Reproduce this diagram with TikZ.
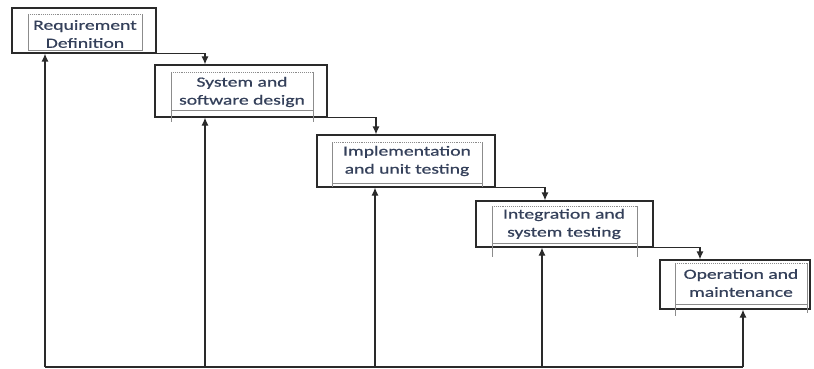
\documentclass[tikz,border=0pt]{standalone}
\usepackage{graphicx}
\usepackage{fontspec}
\setmainfont{Carlito}
\newfontfamily\lblfont{Carlito}[FakeBold=0.6]
\usetikzlibrary{arrows.meta}
\definecolor{txt}{HTML}{34405A}
\definecolor{ln}{HTML}{2A2A2A}
\newcommand{\sx}[1]{\scalebox{1.4}[1]{#1}}
\begin{document}
\begin{tikzpicture}[x=1pt,y=-1pt,
  outerbox/.style={draw=ln, line width=1.2pt, inner sep=0pt},
  lbl/.style={text=txt, font=\lblfont\fontsize{14}{18}\selectfont, align=center, inner sep=0pt},
  conn/.style={draw=ln, line width=1.2pt, -{Latex[length=8pt,width=7pt]}},
  plain/.style={draw=ln, line width=1.2pt},
  innerside/.style={draw=black!45, line width=0.7pt},
  innertop/.style={draw=black!45, line width=0.9pt, densely dotted}
]
\useasboundingbox (0,0) rectangle (814,369);

% outer boxes
\node[outerbox, minimum width=144pt, minimum height=45pt] (b1) at (84,30.5) {};
\node[outerbox, minimum width=172pt, minimum height=52pt] (b2) at (241,91) {};
\node[outerbox, minimum width=178pt, minimum height=52pt] (b3) at (406,161) {};
\node[outerbox, minimum width=177pt, minimum height=46pt] (b4) at (564.5,224) {};
\node[outerbox, minimum width=150pt, minimum height=49pt] (b5) at (735,284.5) {};

% inner boxes
\draw[innertop] (28,14) -- (142,14);
\draw[innerside] (28,14) -- (28,50) -- (142,50) -- (142,14);
\draw[innertop] (171,72) -- (313,72);
\draw[innerside] (171,72) -- (171,122) (313,72) -- (313,122) (171,110) -- (313,110);
\draw[innertop] (332,142) -- (482,142);
\draw[innerside] (332,142) -- (332,187) (482,142) -- (482,187) (332,183) -- (482,183);
\draw[innertop] (492,206) -- (637,206);
\draw[innerside] (492,206) -- (492,257) (637,206) -- (637,257) (492,243) -- (637,243);
\draw[innertop] (675,263) -- (807,263);
\draw[innerside] (675,263) -- (675,316) (807,263) -- (807,313) (675,304) -- (807,304);

% labels
\node[lbl] (l1) at (85,34) {\sx{Requirement}\\\sx{Definition}};
\node[lbl] (l2) at (242,92) {\sx{System and}\\\sx{software design}};
\node[lbl] (l3) at (407,161) {\sx{Implementation}\\\sx{and unit testing}};
\node[lbl] (l4) at (564,224) {\sx{Integration and}\\\sx{system testing}};
\node[lbl] (l5) at (741,283) {\sx{Operation and}\\\sx{maintenance}};

% top connectors
\coordinate (x2) at (205,0);
\coordinate (x3) at (376,0);
\coordinate (x4) at (545,0);
\coordinate (x5) at (700,0);
\draw[conn] (b1.south east) -| (b2.north -| x2);
\draw[conn] (b2.south east) -| (b3.north -| x3);
\draw[conn] (b3.south east) -| (b4.north -| x4);
\draw[conn] (b4.south east) -| (b5.north -| x5);

% feedback lines
\coordinate (g1) at (45,367);
\coordinate (g2) at (205,367);
\coordinate (g3) at (375,367);
\coordinate (g4) at (542,367);
\coordinate (g5) at (743,367);
\draw[plain] (g1) -- (g5);
\draw[conn] (g1) -- (g1 |- b1.south);
\draw[conn] (g2) -- (g2 |- b2.south);
\draw[conn] (g3) -- (g3 |- b3.south);
\draw[conn] (g4) -- (g4 |- b4.south);
\draw[conn] (g5) -- (g5 |- b5.south);
\end{tikzpicture}
\end{document}
